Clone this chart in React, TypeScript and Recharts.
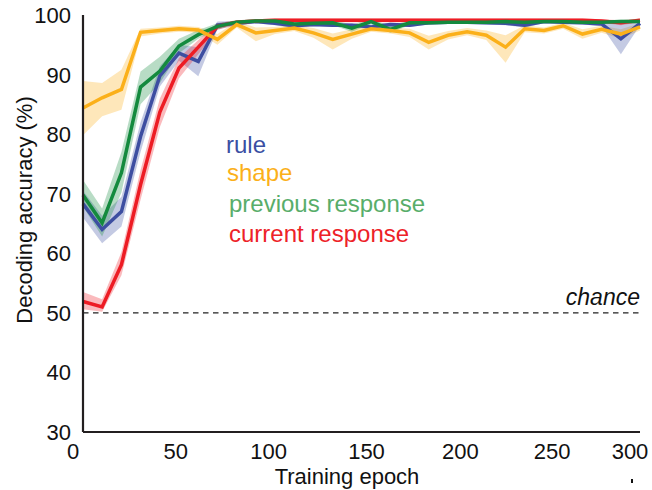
import React from 'react';
import { ComposedChart, Area, Line, XAxis, YAxis, ReferenceLine } from 'recharts';

// evaluation epochs (30 checkpoints over 300 epochs)
const epochs = [0, 10.3, 20.7, 31, 41.4, 51.7, 62.1, 72.4, 82.8, 93.1, 103.4, 113.8, 124.1, 134.5, 144.8, 155.2, 165.5, 175.9, 186.2, 196.6, 206.9, 217.2, 227.6, 237.9, 248.3, 258.6, 269, 279.3, 289.7, 300];

const ruleMean = [68.3, 64.0, 67.0, 79.6, 89.8, 93.6, 92.2, 98.3, 98.6, 98.9, 98.6, 98.2, 98.4, 98.3, 98.3, 98.0, 98.4, 98.3, 98.7, 98.8, 98.8, 98.7, 98.6, 98.3, 98.9, 98.8, 98.7, 98.5, 96.0, 98.6];
const ruleLo = [66.0, 61.7, 64.5, 77.0, 88.0, 92.3, 89.7, 97.6, 98.2, 98.6, 98.3, 97.8, 98.1, 98.0, 98.0, 97.6, 98.1, 98.0, 98.4, 98.5, 98.5, 98.4, 98.3, 97.9, 98.6, 98.5, 98.4, 98.1, 93.4, 98.3];
const ruleHi = [70.5, 66.3, 69.5, 82.0, 91.4, 95.0, 94.6, 98.9, 99.0, 99.2, 98.9, 98.6, 98.7, 98.6, 98.6, 98.4, 98.7, 98.6, 99.0, 99.1, 99.1, 99.0, 98.9, 98.7, 99.2, 99.1, 99.0, 98.9, 98.5, 98.9];

const shapeMean = [84.4, 86.1, 87.5, 97.1, 97.4, 97.7, 97.5, 95.9, 98.4, 97.0, 97.4, 97.8, 97.0, 95.9, 96.8, 97.7, 97.4, 97.0, 95.4, 96.6, 97.2, 96.6, 94.6, 97.7, 97.4, 98.2, 96.8, 97.6, 96.8, 98.0];
const shapeLo = [79.8, 83.0, 84.1, 96.4, 96.9, 97.2, 97.0, 95.0, 97.9, 95.6, 96.8, 97.3, 96.2, 94.2, 96.0, 97.2, 96.9, 96.3, 94.2, 95.9, 96.6, 95.8, 92.0, 97.1, 96.9, 97.7, 96.0, 97.0, 96.0, 97.4];
const shapeHi = [88.9, 88.6, 90.8, 97.7, 97.9, 98.2, 98.0, 96.8, 98.9, 97.9, 98.0, 98.3, 97.8, 96.9, 97.6, 98.2, 97.9, 97.7, 96.5, 97.3, 97.8, 97.4, 96.6, 98.3, 97.9, 98.7, 97.6, 98.2, 97.6, 98.6];

const prevMean = [69.8, 65.1, 73.5, 87.9, 90.6, 94.8, 96.7, 98.1, 98.8, 99.0, 99.0, 98.5, 98.6, 98.7, 97.8, 98.9, 97.6, 98.7, 98.7, 98.8, 98.8, 98.8, 98.9, 98.8, 98.9, 98.9, 98.8, 98.8, 98.9, 98.9];
const prevLo = [67.8, 62.8, 70.2, 85.0, 88.6, 93.6, 96.0, 97.6, 98.5, 98.7, 98.7, 98.1, 98.2, 98.3, 97.2, 98.5, 97.0, 98.3, 98.4, 98.5, 98.5, 98.5, 98.6, 98.5, 98.6, 98.6, 98.5, 98.5, 98.6, 98.6];
const prevHi = [72.3, 67.5, 77.0, 90.5, 93.0, 96.0, 97.5, 98.6, 99.1, 99.3, 99.3, 98.9, 99.0, 99.1, 98.4, 99.3, 98.2, 99.1, 99.0, 99.1, 99.1, 99.1, 99.2, 99.1, 99.2, 99.2, 99.1, 99.1, 99.2, 99.2];

const curMean = [51.9, 51.0, 58.1, 71.5, 83.7, 91.1, 94.6, 98.1, 98.8, 99.0, 99.1, 99.1, 99.1, 99.1, 99.1, 99.1, 99.1, 99.1, 99.1, 99.1, 99.1, 99.1, 99.1, 99.1, 99.1, 99.1, 99.1, 99.0, 98.7, 99.1];
const curLo = [50.6, 50.2, 56.3, 69.0, 81.2, 89.4, 93.4, 97.5, 98.5, 98.7, 98.8, 98.8, 98.8, 98.8, 98.8, 98.8, 98.8, 98.8, 98.8, 98.8, 98.8, 98.8, 98.8, 98.8, 98.8, 98.8, 98.8, 98.7, 98.3, 98.8];
const curHi = [53.5, 52.3, 60.2, 74.0, 86.0, 92.8, 95.8, 98.6, 99.1, 99.3, 99.4, 99.4, 99.4, 99.4, 99.4, 99.4, 99.4, 99.4, 99.4, 99.4, 99.4, 99.4, 99.4, 99.4, 99.4, 99.4, 99.4, 99.3, 99.1, 99.4];

const xTicks = [0, 50, 100, 150, 200, 250, 300];
const yTicks = [30, 40, 50, 60, 70, 80, 90, 100];
const chanceLevel = 50;

const data = epochs.map((epoch, i) => ({
    epoch,
    rule: ruleMean[i],
    ruleBand: [ruleLo[i], ruleHi[i]],
    shape: shapeMean[i],
    shapeBand: [shapeLo[i], shapeHi[i]],
    prev: prevMean[i],
    prevBand: [prevLo[i], prevHi[i]],
    cur: curMean[i],
    curBand: [curLo[i], curHi[i]],
}));

const BLUE = '#3d4ea1';
const YELLOW = '#fbb01a';
const GREEN = '#148a3e';
const RED = '#ed1c24';
const FONT = '"Liberation Sans", Arial, sans-serif';

// hand-placed label nudges, as in the original figure
const xShift: Record<number, number> = { 0: -10, 150: 5, 200: 6, 250: 5, 300: -10 };

const XTick = (props: any) => {
    const { x, y, payload } = props;
    return (
        <text x={x + (xShift[payload.value] || 0)} y={y + 25} textAnchor="middle" fontSize={22} fill="#111" fontFamily={FONT}>
            {payload.value}
        </text>
    );
};

const YTick = (props: any) => {
    const { y, payload } = props;
    return (
        <text x={71} y={y + 8} textAnchor="end" fontSize={22} fill="#111" fontFamily={FONT}>
            {payload.value}
        </text>
    );
};

const App: React.FC = () => {
    return (
        <div style={{ position: 'absolute', left: 0, top: 0, width: 652, height: 490, background: '#fff' }}>
            <ComposedChart width={652} height={490} data={data} margin={{ top: 15, right: 12, bottom: 0, left: 0 }}>
                <XAxis
                    dataKey="epoch"
                    type="number"
                    domain={[0, 300]}
                    ticks={xTicks}
                    tick={<XTick />}
                    tickLine={false}
                    tickSize={0}
                    height={58}
                    axisLine={{ stroke: '#231f20', strokeWidth: 2.2 }}
                />
                <YAxis
                    type="number"
                    domain={[30, 100]}
                    ticks={yTicks}
                    tick={<YTick />}
                    tickLine={false}
                    width={83}
                    allowDataOverflow
                    axisLine={{ stroke: '#231f20', strokeWidth: 2.2 }}
                />
                <ReferenceLine y={chanceLevel} stroke="#222" strokeWidth={1.3} strokeDasharray="5.5 4.5" />
                <Area type="linear" dataKey="shapeBand" stroke="none" fill={YELLOW} fillOpacity={0.3} isAnimationActive={false} />
                <Area type="linear" dataKey="ruleBand" stroke="none" fill={BLUE} fillOpacity={0.3} isAnimationActive={false} />
                <Area type="linear" dataKey="curBand" stroke="none" fill={RED} fillOpacity={0.3} isAnimationActive={false} />
                <Area type="linear" dataKey="prevBand" stroke="none" fill={GREEN} fillOpacity={0.3} isAnimationActive={false} />
                <Line type="linear" dataKey="rule" stroke={BLUE} strokeWidth={3.5} dot={false} isAnimationActive={false} />
                <Line type="linear" dataKey="cur" stroke={RED} strokeWidth={3.5} dot={false} isAnimationActive={false} />
                <Line type="linear" dataKey="prev" stroke={GREEN} strokeWidth={3.5} dot={false} isAnimationActive={false} />
                <Line type="linear" dataKey="shape" stroke={YELLOW} strokeWidth={3.5} dot={false} isAnimationActive={false} />
            </ComposedChart>
            <svg width={652} height={490} style={{ position: 'absolute', left: 0, top: 0, pointerEvents: 'none' }} fontFamily={FONT}>
                <text x={32} y={210} transform="rotate(-90, 32, 210)" textAnchor="middle" fontSize={22} fill="#111">
                    Decoding accuracy (%)
                </text>
                <text x={347} y={484} textAnchor="middle" fontSize={22} fill="#111">
                    Training epoch
                </text>
                <text x={640} y={305} textAnchor="end" fontSize={23} fontStyle="italic" fill="#111">
                    chance
                </text>
                <text x={226} y={153} fontSize={24} fill="#3b4fa3">rule</text>
                <text x={227} y={181} fontSize={24} fill={YELLOW}>shape</text>
                <text x={229} y={212} fontSize={24} fill="#58ad6a">previous response</text>
                <text x={229} y={242} fontSize={24} fill="#ed2228">current response</text>
                <rect x={631} y={479} width={2} height={4} fill="#111" />
            </svg>
        </div>
    );
};

export default App;
